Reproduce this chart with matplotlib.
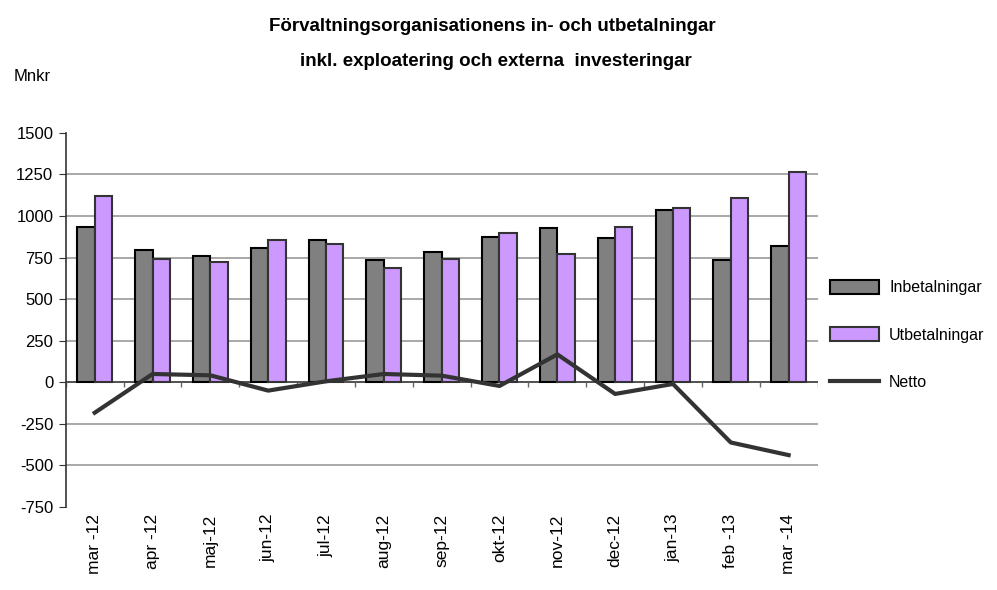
import numpy as np
import matplotlib

matplotlib.use("Agg")
import matplotlib.pyplot as plt
from matplotlib.patches import Patch
from matplotlib.lines import Line2D

plt.rcParams["font.family"] = ["Liberation Sans Narrow", "Liberation Sans", "DejaVu Sans"]

months = ["mar -12", "apr -12", "maj-12", "jun-12", "jul-12", "aug-12", "sep-12",
          "okt-12", "nov-12", "dec-12", "jan-13", "feb -13", "mar -14"]
inbetalningar = [937, 793, 760, 808, 853, 733, 781, 877, 928, 865, 1034, 733, 817]
utbetalningar = [1118, 743, 721, 853, 829, 685, 743, 901, 769, 937, 1046, 1106, 1262]
netto = [-183, 50, 42, -50, 6, 50, 40, -22, 168, -70, -10, -362, -438]
y_ticks = [-750, -500, -250, 0, 250, 500, 750, 1000, 1250, 1500]

GRAY = "#808080"
PURPLE = "#CC99FF"
LINE = "#333333"

fig = plt.figure(figsize=(9.97, 5.9), dpi=100)
ax = fig.add_axes([0.066, 0.1407, 0.754, 0.634])

x = np.arange(len(months))
w = 0.3
ax.bar(x - w / 2, inbetalningar, w, color=GRAY, edgecolor="black", linewidth=1.5, zorder=3)
ax.bar(x + w / 2, utbetalningar, w, color=PURPLE, edgecolor="#333333", linewidth=1.5, zorder=3)
ax.plot(x, netto, color=LINE, linewidth=3, zorder=4)

ax.set_xlim(-0.5, len(months) - 0.5)
ax.set_ylim(-750, 1500)
ax.set_yticks(y_ticks)
ax.set_yticklabels([str(v) for v in y_ticks], fontsize=12)
for v in y_ticks[1:-1]:
    if v != 0:
        ax.axhline(v, color="#999999", linewidth=1.2, zorder=1)

# x axis at zero with category separator ticks
ax.axhline(0, color="#333333", linewidth=1.2, zorder=2)
ax.vlines(np.arange(len(months) + 1) - 0.5, -30, 0, color="#666666", linewidth=1, zorder=2)

ax.set_xticks(x)
ax.set_xticklabels(months, rotation=90, fontsize=12.5)
ax.tick_params(axis="x", length=0, pad=5)
ax.tick_params(axis="y", length=5, color="#333333", pad=4)

for side in ["top", "right", "bottom"]:
    ax.spines[side].set_visible(False)
ax.spines["left"].set_color("#333333")
ax.spines["left"].set_linewidth(1.2)

handles = [
    Patch(facecolor=GRAY, edgecolor="black", linewidth=1.5),
    Patch(facecolor=PURPLE, edgecolor="#333333", linewidth=1.5),
    Line2D([], [], color=LINE, linewidth=3),
]
fig.legend(handles, ["Inbetalningar", "Utbetalningar", "Netto"], loc="upper left",
           bbox_to_anchor=(0.826, 0.537), frameon=False, fontsize=11.5,
           handlelength=3.1, handleheight=1.0, handletextpad=0.6, labelspacing=2.0,
           borderaxespad=0)

fig.text(0.494, 0.955, "Förvaltningsorganisationens in- och utbetalningar",
         ha="center", va="center", fontsize=13.5, fontweight="bold")
fig.text(0.497, 0.895, "inkl. exploatering och externa  investeringar",
         ha="center", va="center", fontsize=13.5, fontweight="bold")
fig.text(0.014, 0.871, "Mnkr", ha="left", va="center", fontsize=12)

fig.savefig("out.png", dpi=100, facecolor="white")
